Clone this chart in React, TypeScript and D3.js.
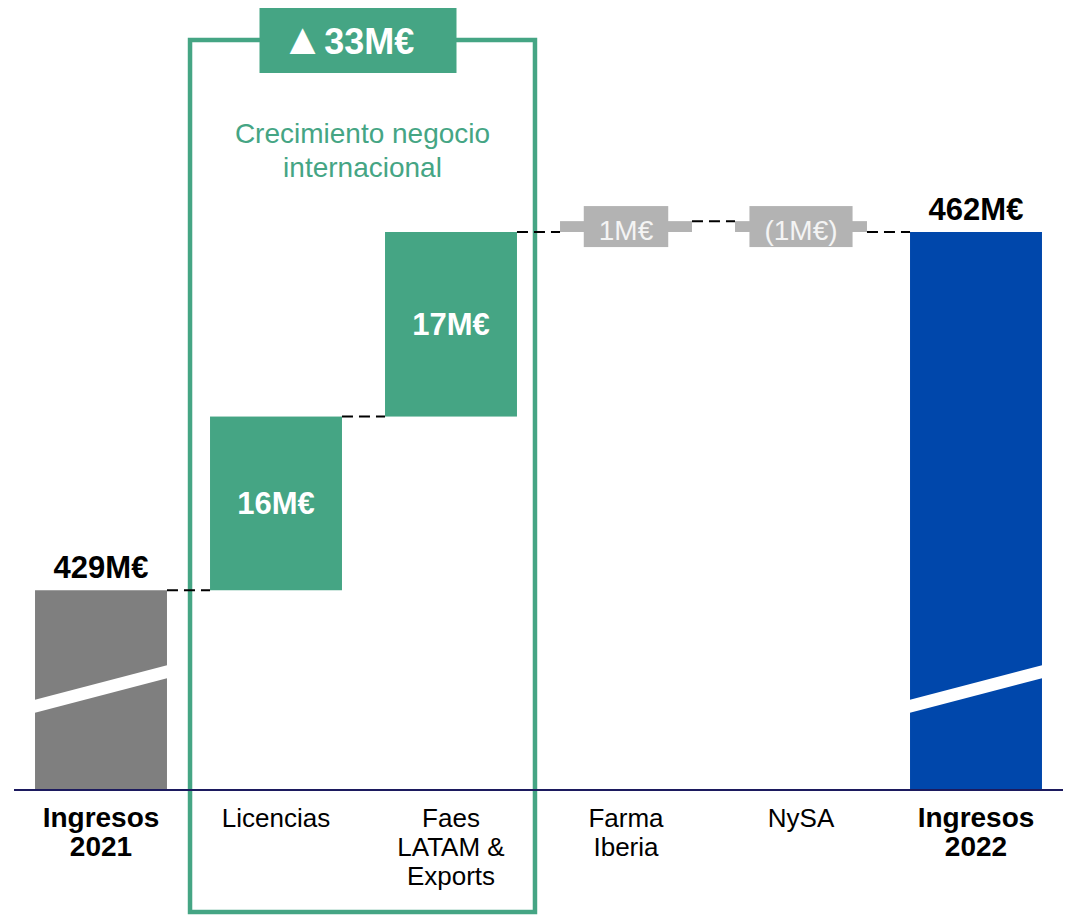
import React, { useEffect, useRef } from 'react'
import { select, scaleBand, scaleLinear } from 'd3'

const categories = ['Ingresos 2021', 'Licencias', 'Faes LATAM & Exports', 'Farma Iberia', 'NySA', 'Ingresos 2022']
const categoryLines = [['Ingresos', '2021'], ['Licencias'], ['Faes', 'LATAM &', 'Exports'], ['Farma', 'Iberia'], ['NySA'], ['Ingresos', '2022']]
const values = [429, 16, 17, 1, -1, 462]
const kinds = ['total', 'intl', 'intl', 'small', 'small', 'total']
const valueLabels = ['429M€', '16M€', '17M€', '1M€', '(1M€)', '462M€']
const groupArrow = '▲'
const groupLabel = '33M€'
const groupTitle = ['Crecimiento negocio', 'internacional']

const W = 1071
const H = 916
const GREEN = '#45a584'
const FONT = '"Liberation Sans", Arial, sans-serif'

const App = () => {
    const svgRef = useRef()

    useEffect(() => {
        document.body.style.margin = '0'
        const svg = select(svgRef.current)
        svg.selectAll('*').remove()

        const x = scaleBand()
            .domain(categories)
            .range([13.5, 1063.5])
            .paddingInner(0.246)
            .paddingOuter(0.123)
        const bw = x.bandwidth()

        // broken axis: bars start at the baseline, values don't start at 0
        const y = scaleLinear().domain([410.6, 462]).range([790, 232])
        const base = y.domain()[0]

        // cumulative steps
        let running = 0
        const bars = categories.map((c, i) => {
            let start, end
            if (kinds[i] === 'total') {
                start = base
                end = values[i]
                running = values[i]
            } else {
                start = running
                end = running + values[i]
                running = end
            }
            return { c, i, start, end, kind: kinds[i], label: valueLabels[i] }
        })

        // green group frame
        const gx0 = x(categories[1]) - 20
        const gx1 = x(categories[2]) + bw + 18
        svg.append('rect')
            .attr('x', gx0).attr('y', 40)
            .attr('width', gx1 - gx0).attr('height', 872)
            .attr('fill', 'none')
            .attr('stroke', GREEN)
            .attr('stroke-width', 4.5)

        // connectors
        bars.slice(0, -1).forEach((b, i) => {
            const ly = y(b.end)
            svg.append('line')
                .attr('x1', x(b.c) + bw).attr('x2', x(bars[i + 1].c))
                .attr('y1', ly).attr('y2', ly)
                .attr('stroke', '#000')
                .attr('stroke-width', 2)
                .attr('stroke-dasharray', '11,6')
        })

        const fillFor = b => b.kind === 'total' ? (b.i === 0 ? '#7f7f7f' : '#0047ab') : b.kind === 'intl' ? GREEN : '#b3b3b3'

        svg.selectAll('.bar')
            .data(bars)
            .join('rect')
            .attr('class', 'bar')
            .attr('x', b => x(b.c))
            .attr('width', bw)
            .attr('y', b => y(Math.max(b.start, b.end)))
            .attr('height', b => Math.abs(y(b.start) - y(b.end)))
            .attr('fill', fillFor)

        // break marks on totals
        bars.filter(b => b.kind === 'total').forEach(b => {
            const x0 = x(b.c) - 1
            const x1 = x(b.c) + bw + 1
            svg.append('polygon')
                .attr('points', `${x0},700 ${x1},665 ${x1},678 ${x0},713`)
                .attr('fill', '#fff')
        })

        // labels
        bars.forEach(b => {
            const cx = x(b.c) + bw / 2
            if (b.kind === 'total') {
                svg.append('text')
                    .attr('x', cx).attr('y', y(b.end) - 12)
                    .attr('text-anchor', 'middle')
                    .attr('font-family', FONT).attr('font-weight', 'bold').attr('font-size', 31)
                    .attr('fill', '#000')
                    .text(b.label)
            } else if (b.kind === 'intl') {
                const cy = (y(b.start) + y(b.end)) / 2
                svg.append('text')
                    .attr('x', cx).attr('y', cy + 11)
                    .attr('text-anchor', 'middle')
                    .attr('font-family', FONT).attr('font-weight', 'bold').attr('font-size', 31)
                    .attr('fill', '#fff')
                    .text(b.label)
            } else {
                const cy = (y(b.start) + y(b.end)) / 2
                const g = svg.append('g')
                const box = g.append('rect').attr('fill', '#b3b3b3')
                const t = g.append('text')
                    .attr('x', cx).attr('y', cy + 13)
                    .attr('text-anchor', 'middle')
                    .attr('font-family', FONT).attr('font-size', 28)
                    .attr('fill', '#f4f4f4')
                    .text(b.label)
                const tw = t.node().getComputedTextLength() + 30
                box.attr('x', cx - tw / 2).attr('width', tw)
                    .attr('y', cy - 20.5).attr('height', 41)
            }
        })

        // header box
        const gcx = (gx0 + gx1) / 2
        svg.append('rect')
            .attr('x', gcx - 103).attr('y', 8)
            .attr('width', 197).attr('height', 65)
            .attr('fill', GREEN)
        const head = svg.append('text')
            .attr('x', gcx - 15).attr('y', 54)
            .attr('text-anchor', 'middle')
            .attr('font-family', FONT).attr('font-weight', 'bold').attr('font-size', 36)
            .attr('fill', '#fff')
        head.append('tspan').attr('font-size', 44).attr('font-weight', 'normal').text(groupArrow)
        head.append('tspan').text(groupLabel)

        svg.selectAll('.gtitle')
            .data(groupTitle)
            .join('text')
            .attr('class', 'gtitle')
            .attr('x', gcx)
            .attr('y', (d, i) => 143 + i * 34)
            .attr('text-anchor', 'middle')
            .attr('font-family', FONT).attr('font-size', 28)
            .attr('fill', GREEN)
            .text(d => d)

        // axis line
        svg.append('line')
            .attr('x1', 14).attr('x2', 1063)
            .attr('y1', 790).attr('y2', 790)
            .attr('stroke', '#1c1a5e')
            .attr('stroke-width', 2)

        // category labels
        categories.forEach((c, i) => {
            const bold = kinds[i] === 'total'
            const t = svg.append('text')
                .attr('x', x(c) + bw / 2)
                .attr('y', 827)
                .attr('text-anchor', 'middle')
                .attr('font-family', FONT)
                .attr('font-size', bold ? 28 : 26)
                .attr('font-weight', bold ? 'bold' : 'normal')
                .attr('fill', '#000')
            categoryLines[i].forEach((line, j) => {
                t.append('tspan')
                    .attr('x', x(c) + bw / 2)
                    .attr('dy', j === 0 ? 0 : 29)
                    .text(line)
            })
        })
    }, [])

    return (
        <svg ref={svgRef} width={W} height={H} style={{ display: 'block', background: '#fff' }} />
    )
}

export default App
